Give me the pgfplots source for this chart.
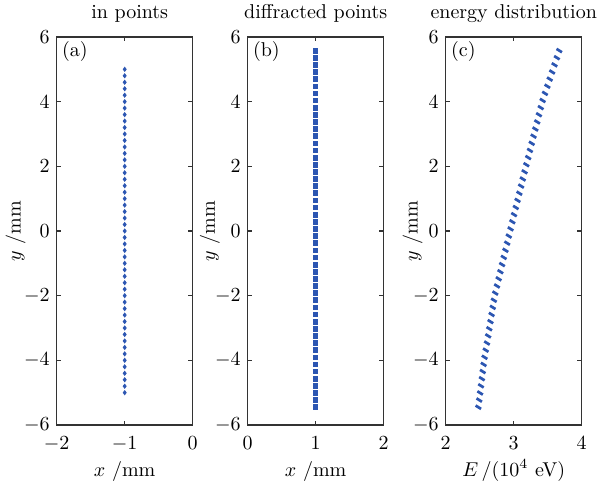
\documentclass[border=0pt]{standalone}
\usepackage{pgfplots}
\usepackage{pgfplotstable}
\pgfplotsset{compat=1.18}
\definecolor{mblue}{RGB}{44,86,178}

\pgfplotstableread{
x y
-1 -5.0
-1 -4.8
-1 -4.6
-1 -4.4
-1 -4.2
-1 -4.0
-1 -3.8
-1 -3.6
-1 -3.4
-1 -3.2
-1 -3.0
-1 -2.8
-1 -2.6
-1 -2.4
-1 -2.2
-1 -2.0
-1 -1.8
-1 -1.6
-1 -1.4
-1 -1.2
-1 -1.0
-1 -0.8
-1 -0.6
-1 -0.4
-1 -0.2
-1 0.0
-1 0.2
-1 0.4
-1 0.6
-1 0.8
-1 1.0
-1 1.2
-1 1.4
-1 1.6
-1 1.8
-1 2.0
-1 2.2
-1 2.4
-1 2.6
-1 2.8
-1 3.0
-1 3.2
-1 3.4
-1 3.6
-1 3.8
-1 4.0
-1 4.2
-1 4.4
-1 4.6
-1 4.8
-1 5.0
}\inpts

\pgfplotstableread{
x y E
1 -5.450 2.480
1 -5.229 2.493
1 -5.009 2.506
1 -4.788 2.519
1 -4.568 2.532
1 -4.347 2.545
1 -4.126 2.558
1 -3.906 2.572
1 -3.685 2.589
1 -3.465 2.607
1 -3.244 2.624
1 -3.023 2.641
1 -2.803 2.658
1 -2.582 2.675
1 -2.362 2.692
1 -2.141 2.709
1 -1.920 2.729
1 -1.700 2.754
1 -1.479 2.779
1 -1.259 2.804
1 -1.038 2.829
1 -0.817 2.854
1 -0.597 2.879
1 -0.376 2.904
1 -0.156 2.928
1 0.065 2.954
1 0.286 2.980
1 0.506 3.005
1 0.727 3.031
1 0.947 3.057
1 1.168 3.083
1 1.389 3.109
1 1.609 3.134
1 1.830 3.160
1 2.050 3.186
1 2.271 3.213
1 2.492 3.239
1 2.712 3.265
1 2.933 3.292
1 3.153 3.318
1 3.374 3.345
1 3.595 3.371
1 3.815 3.398
1 4.036 3.426
1 4.256 3.460
1 4.477 3.495
1 4.698 3.530
1 4.918 3.565
1 5.139 3.600
1 5.359 3.635
1 5.580 3.670
}\diffpts

\pgfplotsset{
  myaxis/.style={
    scale only axis, width=68pt, height=194pt,
    anchor=south west,
    ymin=-6, ymax=6, ytick={-6,-4,...,6},
    tick align=inside, major tick length=2.2pt,
    axis line style={line width=0.65pt, black!80},
    every tick/.append style={line width=0.6pt, black!80},
    tick label style={font=\fontsize{10.3}{12}\selectfont},
    xticklabel style={yshift=-2.5pt},
    label style={font=\fontsize{10}{12}\selectfont},
    every axis title shift=0pt,
    title style={font=\fontsize{10}{12}\selectfont, anchor=base},
    xlabel style={at={([yshift=-25.5pt]rel axis cs:0.5,0)}, anchor=base},
  },
  ttl/.style={title style={at={([yshift=9.2pt,xshift=#1]rel axis cs:0.5,1)}}},
  ylab/.style={ylabel style={at={([xshift=-#1]rel axis cs:0,0.5)}, anchor=base}},
}

\begin{document}
\begin{tikzpicture}
\path[use as bounding box] (0,0) rectangle (300.5pt,242pt);

% (a)
\begin{axis}[myaxis, at={(28.35pt,29.5pt)},
  xmin=-2, xmax=0, xtick={-2,-1,0},
  title={in points}, ttl=2.5pt, ylab=18pt,
  xlabel={$x$ /mm}, ylabel={$y$ /mm}]
\addplot[only marks, mark=diamond*, mark size=1pt, color=mblue] table[x=x, y=y] {\inpts};
\node[anchor=north west, inner sep=0pt, font=\fontsize{10}{12}\selectfont] at ([xshift=2.5pt,yshift=-2.2pt]rel axis cs:0,1) {(a)};
\end{axis}

% (b)
\begin{axis}[myaxis, at={(123.85pt,29.5pt)},
  xmin=0, xmax=2, xtick={0,1,2},
  title={diffracted points}, ttl=0pt, ylab=16.4pt,
  xlabel={$x$ /mm}, ylabel={$y$ /mm}]
\addplot[only marks, mark=square*, mark size=0.9pt, color=mblue,
  mark options={yscale=1.3}] table[x=x, y=y] {\diffpts};
\node[anchor=north west, inner sep=0pt, font=\fontsize{10}{12}\selectfont] at ([xshift=2.5pt,yshift=-2.2pt]rel axis cs:0,1) {(b)};
\end{axis}

% (c)
\begin{axis}[myaxis, at={(222.85pt,29.5pt)},
  xmin=2, xmax=4, xtick={2,3,4},
  title={energy distribution}, ttl=0pt, ylab=14pt,
  xlabel={$E$\,/(10$^4$ eV)}, ylabel={$y$ /mm}]
\addplot[only marks, mark=-, mark size=1.6pt, color=mblue,
  mark options={rotate=-32, line width=1.35pt, line cap=butt}] table[x=E, y=y] {\diffpts};
\node[anchor=north west, inner sep=0pt, font=\fontsize{10}{12}\selectfont] at ([xshift=2.5pt,yshift=-2.2pt]rel axis cs:0,1) {(c)};
\end{axis}
\end{tikzpicture}
\end{document}
